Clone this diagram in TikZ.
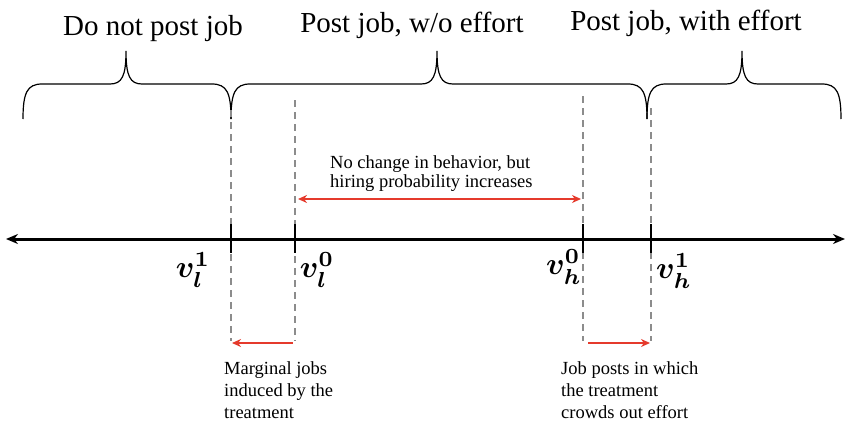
\documentclass[tikz,border=0pt]{standalone}
\usepackage{fontspec}
\usepackage{graphicx}
\setmainfont{Liberation Serif}
\usetikzlibrary{arrows.meta}
\definecolor{redarr}{HTML}{E53A2C}
\definecolor{guidegray}{HTML}{8C8C8C}
\tikzset{
  bracepath/.style={line width=1.2pt, black},
  axisline/.style={line width=3pt, black, {Stealth[length=12pt,width=10pt]}-{Stealth[length=12pt,width=10pt]}},
  tickmark/.style={line width=2.6pt, black},
  guide/.style={line width=1.6pt, guidegray, dash pattern=on 7pt off 5pt},
  redarrow/.style={line width=2pt, redarr, -{Stealth[length=9pt,width=8pt]}},
  redboth/.style={line width=2pt, redarr, {Stealth[length=9pt,width=8pt]}-{Stealth[length=9pt,width=8pt]}},
  toplabel/.style={font=\fontsize{29}{33}\selectfont, inner sep=0pt},
  smalltext/.style={font=\fontsize{18.5}{22}\selectfont, align=left, inner sep=0pt, anchor=north west},
  vlabel/.style={inner sep=0pt}
}
\newcommand{\vlab}[1]{\scalebox{3.1}{\mathversion{bold}$#1$}}
\begin{document}
\begin{tikzpicture}[x=1pt,y=-1pt]
\useasboundingbox (0,0) rectangle (846,423);
% top labels
\node[toplabel] (lab1) at (153,29) {Do not post job};
\node[toplabel] (lab2) at (412,25) {Post job, w/o effort};
\node[toplabel] (lab3) at (686,23) {Post job, with effort};
% braces
\def\ye{119}\def\yh{84}\def\yt{51}
\draw[bracepath] (23,\ye) .. controls (23,93) and (27,\yh) .. (42,\yh) -- (110,\yh)
  .. controls (122,\yh) and (126,76) .. (126,\yt)
  .. controls (126,76) and (130,\yh) .. (142,\yh) -- (212,\yh)
  .. controls (227,\yh) and (231,93) .. (231,\ye);
\draw[bracepath] (231,\ye) .. controls (231,93) and (235,\yh) .. (250,\yh) -- (421,\yh)
  .. controls (433,\yh) and (437,76) .. (437,\yt)
  .. controls (437,76) and (441,\yh) .. (453,\yh) -- (628,\yh)
  .. controls (643,\yh) and (647,93) .. (647,\ye);
\draw[bracepath] (647,\ye) .. controls (647,93) and (651,\yh) .. (666,\yh) -- (726,\yh)
  .. controls (738,\yh) and (742,76) .. (742,\yt)
  .. controls (742,76) and (746,\yh) .. (758,\yh) -- (822,\yh)
  .. controls (837,\yh) and (841,93) .. (841,\ye);
% axis
\coordinate (axL) at (6,239);
\coordinate (axR) at (845,239);
\draw[axisline] (axL) -- (axR);
% guide dashed lines
\coordinate (g1t) at (231,110); \coordinate (g1b) at (231,341);
\coordinate (g2t) at (295,100); \coordinate (g2b) at (295,341);
\coordinate (g3t) at (583,96);  \coordinate (g3b) at (583,341);
\coordinate (g4t) at (651,108); \coordinate (g4b) at (651,341);
\draw[guide] (g1t) -- (g1b);
\draw[guide] (g2t) -- (g2b);
\draw[guide] (g3t) -- (g3b);
\draw[guide] (g4t) -- (g4b);
% ticks
\coordinate (k1t) at (231,224); \coordinate (k1b) at (231,253);
\coordinate (k2t) at (295,224); \coordinate (k2b) at (295,253);
\coordinate (k3t) at (583,224); \coordinate (k3b) at (583,253);
\coordinate (k4t) at (651,224); \coordinate (k4b) at (651,253);
\draw[tickmark] (k1t) -- (k1b);
\draw[tickmark] (k2t) -- (k2b);
\draw[tickmark] (k3t) -- (k3b);
\draw[tickmark] (k4t) -- (k4b);
% value labels
\node[vlabel] (vl1) at (193,270) {\vlab{v_l^1}};
\node[vlabel] (vl0) at (317,270) {\vlab{v_l^0}};
\node[vlabel] (vh0) at (564,267) {\vlab{v_h^0}};
\node[vlabel] (vh1) at (674,271) {\vlab{v_h^1}};
% middle double arrow
\coordinate (ma) at (298,199); \coordinate (mb) at (581,199);
\draw[redboth] (ma) -- (mb);
\node[smalltext] (midtext) at (330,155) {No change in behavior, but\\[-3pt]hiring probability increases};
% bottom arrows
\coordinate (la) at (293,343); \coordinate (lb) at (232,343);
\draw[redarrow] (la) -- (lb);
\coordinate (ra) at (588,343); \coordinate (rb) at (650,343);
\draw[redarrow] (ra) -- (rb);
\node[smalltext] (bl) at (224,361) {Marginal jobs\\induced by the\\treatment};
\node[smalltext] (br) at (561,361) {Job posts in which\\the treatment\\crowds out effort};
\end{tikzpicture}
\end{document}
